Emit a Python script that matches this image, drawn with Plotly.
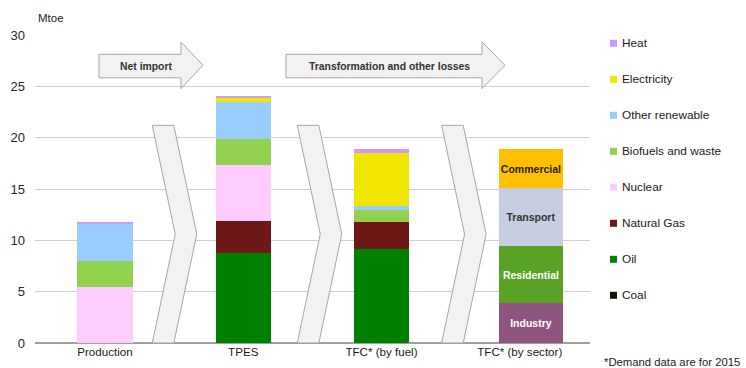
import plotly.graph_objects as go

# ---- data (Mtoe) ----
categories = ["Production", "TPES", "TFC* (by fuel)", "TFC* (by sector)"]

fuel_names = ["Coal", "Oil", "Natural Gas", "Nuclear", "Biofuels and waste",
              "Other renewable", "Electricity", "Heat"]
coal = [0.0, 0.0, 0.0]
oil = [0.0, 8.76, 9.19]
natural_gas = [0.0, 3.09, 2.63]
nuclear = [5.45, 5.53, 0.0]
biofuels = [2.55, 2.50, 1.18]
other_renewable = [3.65, 3.61, 0.38]
electricity = [0.0, 0.43, 5.08]
heat = [0.10, 0.16, 0.42]
fuel_values = [coal, oil, natural_gas, nuclear, biofuels, other_renewable, electricity, heat]

sector_names = ["Industry", "Residential", "Transport", "Commercial"]
sector_values = [3.85, 5.56, 5.69, 3.78]

y_ticks = [0, 5, 10, 15, 20, 25, 30]
unit_label = "Mtoe"
arrow_labels = ["Net import", "Transformation and other losses"]
footnote = "*Demand data are for 2015"

# ---- styling ----
FONT = "Liberation Sans, Arial, sans-serif"
fuel_colors = {
    "Coal": "#111108",
    "Oil": "#008000",
    "Natural Gas": "#6E1818",
    "Nuclear": "#FFCCFF",
    "Biofuels and waste": "#92D050",
    "Other renewable": "#99CCFF",
    "Electricity": "#F0E600",
    "Heat": "#CC99FF",
}
sector_colors = {"Industry": "#8F5480", "Residential": "#5AA226",
                 "Transport": "#C6CCE1", "Commercial": "#FFC000"}
sector_text = {"Industry": "white", "Residential": "white",
               "Transport": "#333333", "Commercial": "#262200"}

# plot area in pixels (746 x 368 canvas)
L, R, T, B = 35, 156, 35, 25
W_PX, H_PX = 746, 368
plot_w, plot_h = W_PX - L - R, H_PX - T - B
x_range = [-0.506, 3.508]
y_range = [0, 30]

pos = list(range(len(categories)))
fuel_x = pos[:3]

fig = go.Figure()

for name, vals in zip(fuel_names, fuel_values):
    fig.add_trace(go.Bar(
        x=fuel_x, y=vals, name=name, width=0.40,
        marker=dict(color=fuel_colors[name], line=dict(width=0)),
        showlegend=False, hoverinfo="name+y",
    ))

for name, val in zip(sector_names, sector_values):
    fig.add_trace(go.Bar(
        x=[pos[3]], y=[val], name=name, width=0.46, offset=-0.149,
        marker=dict(color=sector_colors[name], line=dict(width=0)),
        text=[name], textposition="inside", insidetextanchor="middle",
        textangle=0, constraintext="none",
        textfont=dict(family=FONT, size=10.5, color=sector_text[name], weight="bold"),
        showlegend=False, hoverinfo="name+y",
    ))

shapes = []
annotations = []

# chevrons between the columns (x in axis units, y in Mtoe)
chev_w, chev_d = 0.156, 0.166
chev_top, chev_mid = 21.2, 10.6
for left in [0.342, 1.391, 2.435]:
    path = (f"M {left},{chev_top} L {left + chev_w},{chev_top} "
            f"L {left + chev_w + chev_d},{chev_mid} L {left + chev_w},0 "
            f"L {left},0 L {left + chev_d},{chev_mid} Z")
    shapes.append(dict(type="path", path=path, xref="x", yref="y",
                       fillcolor="#F2F2F2", line=dict(color="#A6A6A6", width=1),
                       layer="between"))

# block arrows at the top
arrow_specs = [(-0.043, 0.550, 0.709), (1.309, 2.727, 2.893)]
body_top, body_bot = 28.12, 25.83
head_top, head_bot = 29.32, 24.78
mid = (head_top + head_bot) / 2
for (x0, x1, tip), label in zip(arrow_specs, arrow_labels):
    path = (f"M {x0},{body_bot} L {x0},{body_top} L {x1},{body_top} "
            f"L {x1},{head_top} L {tip},{mid} L {x1},{head_bot} "
            f"L {x1},{body_bot} Z")
    shapes.append(dict(type="path", path=path, xref="x", yref="y",
                       fillcolor="#F2F2F2", line=dict(color="#A6A6A6", width=1),
                       layer="between"))
    annotations.append(dict(x=(x0 + x1) / 2 + 0.04, y=(body_top + body_bot) / 2,
                            xref="x", yref="y", text=label, showarrow=False,
                            font=dict(family=FONT, size=10.4, color="#333333",
                                      weight="bold"),
                            xanchor="center", yanchor="middle"))

# hand-built legend on the right
def px_x(px):
    return (px - L) / plot_w

def px_y(py):
    return (H_PX - B - py) / plot_h

legend_order = list(reversed(fuel_names))
for i, name in enumerate(legend_order):
    cy = 43.3 + 36 * i
    shapes.append(dict(type="rect", xref="paper", yref="paper",
                       x0=px_x(610), x1=px_x(617), y0=px_y(cy + 3.5), y1=px_y(cy - 3.5),
                       fillcolor=fuel_colors[name], line=dict(width=0)))
    annotations.append(dict(x=px_x(620), y=px_y(cy), xref="paper", yref="paper",
                            text=name, showarrow=False, xanchor="left",
                            yanchor="middle",
                            font=dict(family=FONT, size=11.8, color="#1a1a1a")))

annotations.append(dict(x=px_x(36), y=px_y(18), xref="paper", yref="paper",
                        text=unit_label, showarrow=False, xanchor="left",
                        yanchor="middle",
                        font=dict(family=FONT, size=11.5, color="#262626")))
annotations.append(dict(x=px_x(602), y=px_y(361.5), xref="paper", yref="paper",
                        text=footnote, showarrow=False, xanchor="left",
                        yanchor="middle",
                        font=dict(family=FONT, size=11.3, color="#1a1a1a")))

fig.update_layout(
    width=W_PX, height=H_PX,
    margin=dict(l=L, r=R, t=T, b=B, pad=0),
    barmode="stack",
    plot_bgcolor="white", paper_bgcolor="white",
    font=dict(family=FONT, size=12, color="#262626"),
    shapes=shapes, annotations=annotations,
    xaxis=dict(range=x_range, tickvals=pos, ticktext=categories,
               showgrid=False, zeroline=False, showline=False, automargin=False,
               ticks="", tickfont=dict(size=11.6, color="#1a1a1a")),
    yaxis=dict(range=y_range, tickvals=y_ticks, showgrid=True,
               gridcolor="#CFCFCF", gridwidth=1.2, zeroline=True,
               zerolinecolor="#A0A0A0", zerolinewidth=2, showline=False,
               automargin=False, ticks="", ticklabelstandoff=9,
               tickfont=dict(size=13, color="#262626")),
)

fig.write_html("out.html")
